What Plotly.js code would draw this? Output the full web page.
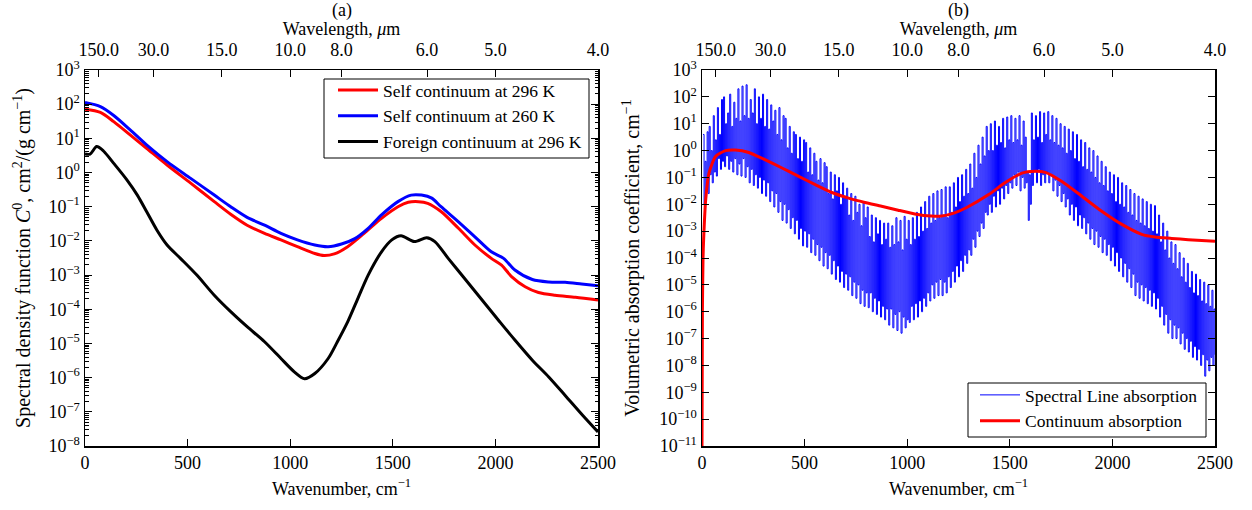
<!DOCTYPE html>
<html>
<head>
<meta charset="utf-8">
<script src="https://cdn.plot.ly/plotly-3.0.1.min.js"></script>
<style>html,body{margin:0;padding:0;background:#fff;}#chart{width:1252px;height:510px;}</style>
</head>
<body>
<div id="chart"></div>
<script>
// ---------- Panel (a): continuum spectral density functions ----------
const self296Wn = [0, 75, 140, 220, 300, 400, 515, 630, 710, 790, 875, 955, 1035, 1120, 1165, 1215, 1280, 1360, 1445, 1525, 1575, 1625, 1670, 1735, 1820, 1900, 1980, 2030, 2080, 2145, 2210, 2290, 2390, 2500];
const self296 = [71, 57.5, 30.9, 12.6, 5.13, 1.66, 0.49, 0.141, 0.0603, 0.0288, 0.0166, 0.0107, 0.00676, 0.00427, 0.00372, 0.00417, 0.00676, 0.0166, 0.0457, 0.1, 0.135, 0.141, 0.126, 0.0724, 0.0234, 0.00759, 0.00309, 0.00195, 0.000891, 0.000457, 0.000309, 0.000257, 0.000224, 0.000186];

const self260Wn = [0, 75, 140, 220, 300, 400, 515, 630, 710, 790, 875, 955, 1035, 1120, 1185, 1250, 1315, 1380, 1445, 1525, 1590, 1640, 1690, 1735, 1820, 1900, 1980, 2040, 2095, 2180, 2260, 2340, 2420, 2500];
const self260 = [112, 85.1, 46.8, 17.8, 6.46, 2.09, 0.676, 0.219, 0.1, 0.049, 0.0288, 0.0166, 0.0107, 0.00759, 0.00676, 0.00813, 0.0117, 0.0234, 0.0575, 0.141, 0.219, 0.219, 0.178, 0.1, 0.0363, 0.0132, 0.00479, 0.00309, 0.00141, 0.000741, 0.000631, 0.000617, 0.00055, 0.00049];

const foreignWn = [0, 25, 57, 90, 140, 205, 255, 300, 350, 400, 465, 545, 630, 710, 790, 875, 955, 1020, 1070, 1120, 1185, 1230, 1280, 1330, 1380, 1445, 1495, 1540, 1605, 1665, 1705, 1770, 1850, 1935, 2015, 2095, 2180, 2260, 2340, 2425, 2500];
const foreign296 = [3.47, 3.47, 5.75, 4.27, 1.86, 0.603, 0.219, 0.0724, 0.0209, 0.00759, 0.00309, 0.001, 0.000257, 8.51e-5, 3.09e-5, 1.12e-5, 3.63e-6, 1.48e-6, 9.33e-7, 1.32e-6, 3.63e-6, 1.12e-5, 4.27e-5, 2.09e-4, 1e-3, 4.79e-3, 1.07e-2, 1.41e-2, 9.55e-3, 1.23e-2, 9.55e-3, 3.09e-3, 7.94e-4, 1.86e-4, 4.79e-5, 1.26e-5, 3.24e-6, 1.05e-6, 3.02e-7, 7.94e-8, 2.57e-8];

// ---------- Panel (b): volumetric absorption coefficients ----------
const contWn = [0, 2, 5, 8, 18, 34, 66, 115, 163, 228, 309, 390, 471, 552, 633, 714, 794, 875, 956, 1037, 1118, 1167, 1231, 1290, 1397, 1478, 1559, 1624, 1673, 1754, 1851, 1948, 2046, 2143, 2208, 2289, 2370, 2500];
const contAbs = [1e-11, 1e-6, 1e-4, 5.01e-4, 0.0148, 0.145, 0.603, 1.0, 1.05, 0.851, 0.447, 0.224, 0.11, 0.0537, 0.0275, 0.017, 0.0117, 0.00851, 0.00603, 0.00437, 0.00363, 0.00363, 0.00479, 0.00759, 0.0229, 0.0646, 0.145, 0.17, 0.155, 0.0708, 0.02, 0.0055, 0.00178, 0.000759, 0.000603, 0.000537, 0.000479, 0.000417];

// spectral line absorption: log10 of the coefficient, read every 5 cm^-1 starting at 5 cm^-1
// (alternating line-centre / between-line values)
const lineStartWn = 5;
const lineStepWn = 5;
const lineLog10 = [
  0.6, -2.0, -0.4, -1.5, 0.7, -1.6, 0.9, -0.9, 0.0, -1.2, 1.3, -0.8, 0.4, -0.95, 1.6, -0.3, 0.6, -0.7, 1.9, -0.4,
  2.0, -0.6, 1.0, -0.2, 1.4, -0.7, 2.1, -0.4, 0.9, -0.8, 1.8, -0.3, 1.2, -0.9, 2.3, -0.5, 1.1, -0.95, 2.4, -0.3,
  1.3, -1.0, 2.45, -0.6, 1.2, -1.2, 1.9, -0.7, 1.4, -1.3, 2.3, -0.9, 1.0, -1.4, 2.0, -1.0, 1.2, -1.6, 2.1, -1.1,
  0.9, -1.7, 1.9, -1.2, 0.8, -1.9, 1.7, -1.5, 1.1, -2.1, 1.5, -1.6, 0.6, -2.3, 1.6, -1.9, 0.4, -2.6, 1.3, -2.0,
  1.2, -2.7, 0.1, -2.2, 0.9, -2.9, -0.1, -2.5, 0.7, -3.1, 0.6, -2.6, -0.3, -3.3, 0.5, -2.9, -0.4, -3.55, 0.4, -3.0,
  0.3, -3.6, -0.8, -3.1, 0.1, -3.8, -0.9, -3.3, -0.1, -3.9, -0.4, -3.5, -1.1, -4.1, -0.3, -3.6, -1.2, -4.3, -0.45, -3.8,
  -0.6, -4.4, -1.6, -3.9, -0.8, -4.6, -1.8, -4.1, -0.9, -4.8, -1.5, -4.3, -1.0, -4.9, -2.0, -4.5, -1.2, -5.1, -1.7, -4.6,
  -1.4, -5.2, -2.4, -4.7, -1.6, -5.4, -2.6, -4.9, -1.7, -5.5, -2.3, -5.0, -2.0, -5.7, -2.8, -5.2, -1.9, -5.8, -2.5, -5.3,
  -2.1, -5.85, -3.2, -5.3, -2.4, -6.0, -3.4, -5.5, -2.5, -6.1, -3.1, -5.6, -2.6, -6.2, -3.5, -5.8, -2.7, -6.3, -3.3, -5.9,
  -2.7, -6.5, -3.6, -5.9, -2.8, -6.6, -3.5, -6.1, -2.5, -6.7, -3.4, -6.0, -2.6, -6.8, -3.7, -6.2, -2.45, -6.6, -3.3, -6.3,
  -2.6, -6.4, -3.5, -5.8, -2.5, -6.3, -3.3, -5.7, -2.3, -6.2, -3.2, -5.6, -2.1, -6.0, -3.0, -5.5, -1.9, -5.8, -2.9, -5.3,
  -1.7, -5.6, -2.7, -5.0, -1.6, -5.5, -2.6, -4.9, -1.5, -5.4, -2.5, -4.8, -1.45, -5.4, -2.4, -4.9, -1.35, -5.3, -2.5, -4.7,
  -1.35, -5.1, -2.3, -4.5, -1.2, -4.9, -2.1, -4.3, -1.0, -4.7, -1.9, -4.1, -0.9, -4.5, -1.7, -3.9, -0.7, -4.2, -1.6, -3.7,
  -0.5, -3.9, -1.4, -3.3, -0.1, -3.6, -1.0, -3.0, 0.2, -3.2, -0.5, -2.7, 0.5, -2.9, -0.2, -2.3, 0.9, -2.4, 0.0, -2.0,
  1.0, -2.3, 0.0, -1.7, 1.1, -2.1, 0.2, -1.5, 0.9, -2.0, 0.3, -1.4, 1.2, -1.8, 0.1, -1.3, 1.25, -1.6, 0.4, -1.2,
  1.3, -1.4, 0.3, -0.9, 1.2, -1.3, 0.4, -0.8, 1.3, -1.5, 0.2, -1.0, 1.1, -1.4, 0.5, -1.2, -0.8, -2.6, -0.9, -2.0,
  1.4, -1.3, 0.4, -0.8, 1.3, -1.2, 0.5, -0.7, 1.45, -1.3, 0.3, -0.9, 1.4, -1.2, 0.6, -0.8, 1.45, -1.2, 0.4, -0.9,
  1.3, -1.5, 0.3, -1.1, 1.2, -1.7, 0.2, -1.3, 1.0, -1.9, 0.1, -1.6, 0.9, -2.1, -0.1, -1.8, 0.8, -2.4, 0.0, -2.0,
  0.7, -2.6, -0.3, -2.1, 0.6, -2.8, -0.4, -2.4, 0.4, -2.9, -0.6, -2.5, 0.3, -3.1, -0.7, -2.7, 0.1, -3.3, -0.8, -2.9,
  0.0, -3.5, -1.0, -3.0, -0.2, -3.6, -1.2, -3.2, -0.4, -3.8, -1.3, -3.3, -0.6, -3.9, -1.5, -3.5, -0.8, -4.1, -1.6, -3.6,
  -0.9, -4.3, -1.9, -3.8, -1.0, -4.5, -2.0, -4.0, -1.2, -4.7, -2.1, -4.2, -1.3, -4.9, -2.3, -4.4, -1.45, -5.1, -2.4, -4.6,
  -1.6, -5.4, -2.6, -4.9, -1.7, -5.5, -2.7, -5.0, -1.8, -5.6, -2.8, -5.1, -1.9, -5.7, -2.9, -5.2, -2.0, -5.8, -3.0, -5.3,
  -2.05, -5.9, -3.1, -5.5, -2.4, -6.2, -3.4, -5.8, -2.7, -6.5, -3.7, -6.1, -3.0, -6.8, -4.0, -6.3, -3.4, -7.0, -4.2, -6.5,
  -3.5, -7.0, -4.4, -6.6, -3.8, -7.2, -4.7, -6.8, -4.0, -7.4, -4.9, -7.0, -4.2, -7.5, -5.1, -7.1, -4.5, -7.7, -5.3, -7.3,
  -4.6, -7.8, -5.4, -7.4, -4.8, -8.0, -5.6, -7.6, -4.9, -8.4, -5.7, -7.8, -5.0, -8.2, -5.8, -7.7, -5.2, -8.0, -5.9, -7.6
];

// ---------- Axis tick labels ----------
const wnTicks = [0, 500, 1000, 1500, 2000, 2500];
const wavelengthTicks = [150, 30, 15, 10, 8, 6, 5, 4];   // micrometres
const yExpA = [-8, -7, -6, -5, -4, -3, -2, -1, 0, 1, 2, 3];
const yExpB = [-11, -10, -9, -8, -7, -6, -5, -4, -3, -2, -1, 0, 1, 2, 3];

// ---------- build ----------
const lineWn = lineLog10.map((v, i) => lineStartWn + i * lineStepWn);
const lineAbs = lineLog10.map(v => Math.pow(10, v));
const wlTickVals = wavelengthTicks.map(l => 1e4 / l);
const wlTickText = wavelengthTicks.map(l => l.toFixed(1));
const powLabel = e => '10<sup>' + (e < 0 ? '\u2212' + (-e) : e) + '</sup>';
const minorA = [];
for (let e = -8; e < 3; e++) for (let m = 2; m <= 9; m++) minorA.push(m * Math.pow(10, e));

const FONT = 'Liberation Serif, Times New Roman, serif';
const FS = 18;
const tf = {family: FONT, size: FS, color: 'black'};
const lf = {family: FONT, size: 17.5, color: 'black'};
const ytf = {family: FONT, size: 20, color: 'black'};
const W = 1252, H = 510;
const px = v => v / W, py = v => 1 - v / H;

const traces = [
  {x: self296Wn, y: self296, xaxis: 'x', yaxis: 'y', mode: 'lines', name: 'Self continuum at 296 K',
   line: {color: '#ff0000', width: 3, shape: 'spline', smoothing: 0.8}, legend: 'legend', legendgroup: 'a1'},
  {x: self260Wn, y: self260, xaxis: 'x', yaxis: 'y', mode: 'lines', name: 'Self continuum at 260 K',
   line: {color: '#0000ff', width: 3, shape: 'spline', smoothing: 0.8}, legend: 'legend', legendgroup: 'a2'},
  {x: foreignWn, y: foreign296, xaxis: 'x', yaxis: 'y', mode: 'lines', name: 'Foreign continuum at 296 K',
   line: {color: '#000000', width: 3, shape: 'spline', smoothing: 0.8}, legend: 'legend', legendgroup: 'a3'},
  {x: lineWn, y: lineAbs, xaxis: 'x2', yaxis: 'y2', mode: 'lines', name: 'Spectral Line absorption',
   line: {color: '#0000ff', width: 1, shape: 'hv'}, legend: 'legend2', legendgroup: 'b1'},
  {x: contWn, y: contAbs, xaxis: 'x2', yaxis: 'y2', mode: 'lines', name: 'Continuum absorption',
   line: {color: '#ff0000', width: 3, shape: 'spline', smoothing: 0.6}, legend: 'legend2', legendgroup: 'b2'},
  // invisible anchors so the secondary (wavelength) axes get drawn
  {x: wnTicks, y: wnTicks.map(() => 1), xaxis: 'x3', yaxis: 'y', mode: 'markers', marker: {opacity: 0}, showlegend: false, hoverinfo: 'skip'},
  {x: wnTicks, y: wnTicks.map(() => 1), xaxis: 'x4', yaxis: 'y2', mode: 'markers', marker: {opacity: 0}, showlegend: false, hoverinfo: 'skip'}
];

const baseX = {
  range: [0, 2500], tickmode: 'array', tickvals: wnTicks, ticks: 'inside', ticklen: 7, tickwidth: 1, tickcolor: 'black',
  showline: true, linewidth: 1.5, linecolor: 'black', mirror: true, showgrid: false, zeroline: false,
  tickfont: tf,
  title: {text: 'Wavenumber, cm<sup>\u22121</sup>', font: tf, standoff: 10}
};
const topX = {
  range: [0, 2500], side: 'top', tickmode: 'array', tickvals: wlTickVals, ticktext: wlTickText,
  ticks: 'inside', ticklen: 7, tickwidth: 1, tickcolor: 'black', showline: false, showgrid: false, zeroline: false,
  tickfont: tf, ticklabelstandoff: 9,
  title: {text: 'Wavelength, <i>\u03bc</i>m', font: tf, standoff: 0}
};
const baseY = {
  type: 'log', tickmode: 'array', ticks: 'inside', ticklen: 7, tickwidth: 1, tickcolor: 'black',
  showline: true, linewidth: 1.5, linecolor: 'black', mirror: 'ticks', showgrid: false, zeroline: false,
  tickfont: tf
};
const legendBox = (x0, x1, y0, y1) => ({type: 'rect', xref: 'paper', yref: 'paper', x0: px(x0), x1: px(x1), y0: py(y1), y1: py(y0),
  line: {color: 'black', width: 1}, fillcolor: 'white', layer: 'above'});

const layout = {
  width: W, height: H,
  margin: {l: 0, r: 0, t: 0, b: 0},
  paper_bgcolor: 'white', plot_bgcolor: 'white',
  font: tf,
  showlegend: true,
  xaxis: Object.assign({}, baseX, {domain: [px(85), px(598)], anchor: 'y'}),
  xaxis2: Object.assign({}, baseX, {domain: [px(702), px(1215)], anchor: 'y2'}),
  xaxis3: Object.assign({}, topX, {overlaying: 'x', anchor: 'y'}),
  xaxis4: Object.assign({}, topX, {overlaying: 'x2', anchor: 'y2'}),
  yaxis: Object.assign({}, baseY, {
    domain: [py(446), py(70)], anchor: 'x', range: [-8, 3],
    tickvals: yExpA.map(e => Math.pow(10, e)), ticktext: yExpA.map(powLabel),
    minor: {tickmode: 'array', tickvals: minorA, ticks: 'inside', ticklen: 3.5, tickwidth: 1, tickcolor: 'black', showgrid: false},
    title: {text: 'Spectral density function <i>C</i><sup>0</sup>, cm<sup>2</sup>/(g cm<sup>\u22121</sup>)', font: ytf, standoff: 12}
  }),
  yaxis2: Object.assign({}, baseY, {
    domain: [py(446), py(70)], anchor: 'x2', range: [-11, 3],
    tickvals: yExpB.map(e => Math.pow(10, e)), ticktext: yExpB.map(powLabel),
    title: {text: 'Volumetric absorption coefficient, cm<sup>\u22121</sup>', font: ytf, standoff: 14}
  }),
  legend: {
    x: px(333), xanchor: 'left', y: py(72), yanchor: 'top',
    bgcolor: 'rgba(0,0,0,0)', borderwidth: 0,
    font: lf, itemwidth: 40, tracegroupgap: 0
  },
  legend2: {
    x: px(975), xanchor: 'left', y: py(377), yanchor: 'top',
    bgcolor: 'rgba(0,0,0,0)', borderwidth: 0,
    font: lf, itemwidth: 40, tracegroupgap: 0
  },
  shapes: [legendBox(324, 589, 79, 158), legendBox(968, 1206, 383, 437)],
  annotations: [
    {text: '(a)', xref: 'paper', yref: 'paper', x: px((85 + 598) / 2), y: py(10), xanchor: 'center', yanchor: 'middle', showarrow: false, font: tf},
    {text: '(b)', xref: 'paper', yref: 'paper', x: px((702 + 1215) / 2), y: py(10), xanchor: 'center', yanchor: 'middle', showarrow: false, font: tf}
  ]
};

Plotly.newPlot('chart', traces, layout, {displayModeBar: false, staticPlot: true});
</script>
</body>
</html>
